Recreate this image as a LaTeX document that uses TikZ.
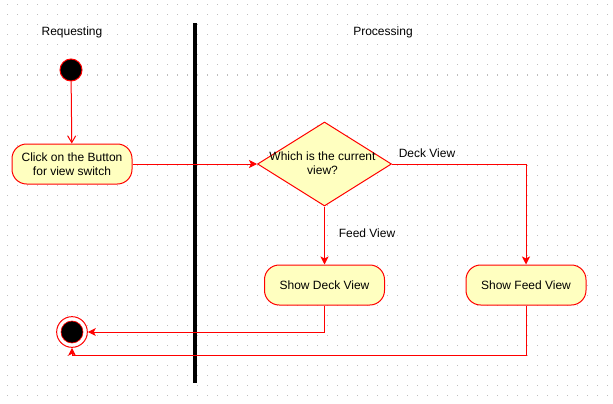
\documentclass[tikz,border=0pt]{standalone}
\usepackage{fontspec}
\setmainfont{Liberation Sans}
\usetikzlibrary{shapes.geometric,arrows.meta}
\definecolor{umlred}{RGB}{255,0,0}
\definecolor{umlfill}{RGB}{255,255,192}
\definecolor{gridc}{RGB}{190,190,190}
\begin{document}
\begin{tikzpicture}[x=0.75pt,y=-0.75pt,
  every node/.style={font=\fontsize{9}{10.5}\selectfont},
  activity/.style={draw=umlred,fill=umlfill,rounded corners=11pt,minimum width=90pt,minimum height=30pt,align=center,inner sep=2pt,line width=0.75pt},
  decision/.style={diamond,draw=umlred,fill=umlfill,minimum width=100.5pt,minimum height=63pt,inner sep=0pt,line width=0.75pt},
  startnode/.style={circle,draw=umlred,fill=black,minimum size=16.5pt,inner sep=0pt,line width=0.75pt},
  endnode/.style={circle,draw=umlred,fill=white,minimum size=23pt,inner sep=0pt,line width=0.75pt},
  flow/.style={draw=umlred,line width=0.75pt,-{Stealth[length=6pt,width=6pt,inset=1.5pt]}},
  openflow/.style={draw=umlred,line width=0.75pt,-{Straight Barb[length=5pt,width=6pt]}},
  lbl/.style={inner sep=0pt}]
\useasboundingbox (0,0) rectangle (613,403);
\fill[white] (0,0) rectangle (613,403);
% dotted grid
\foreach \i in {0,...,60}{
  \foreach \j in {0,...,39}{
    \fill[gridc] (6.5+10*\i,4.5+10*\j) rectangle ++(1,1);
  }
}
% swimlane separator
\fill[black] (193,23) rectangle (197,383);
% lane titles
\node[lbl] (req) at (72,32) {Requesting};
\node[lbl] (proc) at (383,32) {Processing};
% nodes
\node[startnode] (start) at (71,70) {};
\node[activity] (click) at (72,164) {Click on the Button\\for view switch};
\node[decision] (dec) at (324.5,164) {};
\node[lbl,align=center] (dectext) at (322.5,163.5) {Which is the current\\view?};
\node[activity] (deck) at (324.5,285) {Show Deck View};
\node[activity] (feed) at (526,285) {Show Feed View};
\node[endnode] (end) at (72,332) {};
\fill[black,draw=umlred,line width=0.5pt] (end.center) circle[radius=11];
% connectors
\draw[openflow] (start) -- (click);
\draw[flow] (click.east) -- (dec.west);
\draw[flow] (dec.east) -| (feed.north);
\draw[flow] (dec.south) -- (deck.north);
\draw[flow] (deck.south) |- (end.east);
\draw[flow] (feed.south) -- ++(0,50) -| (end.south);
% labels
\node[lbl] (lbldeck) at (427,153) {Deck View};
\node[lbl] (lblfeed) at (367,233) {Feed View};
\end{tikzpicture}
\end{document}
